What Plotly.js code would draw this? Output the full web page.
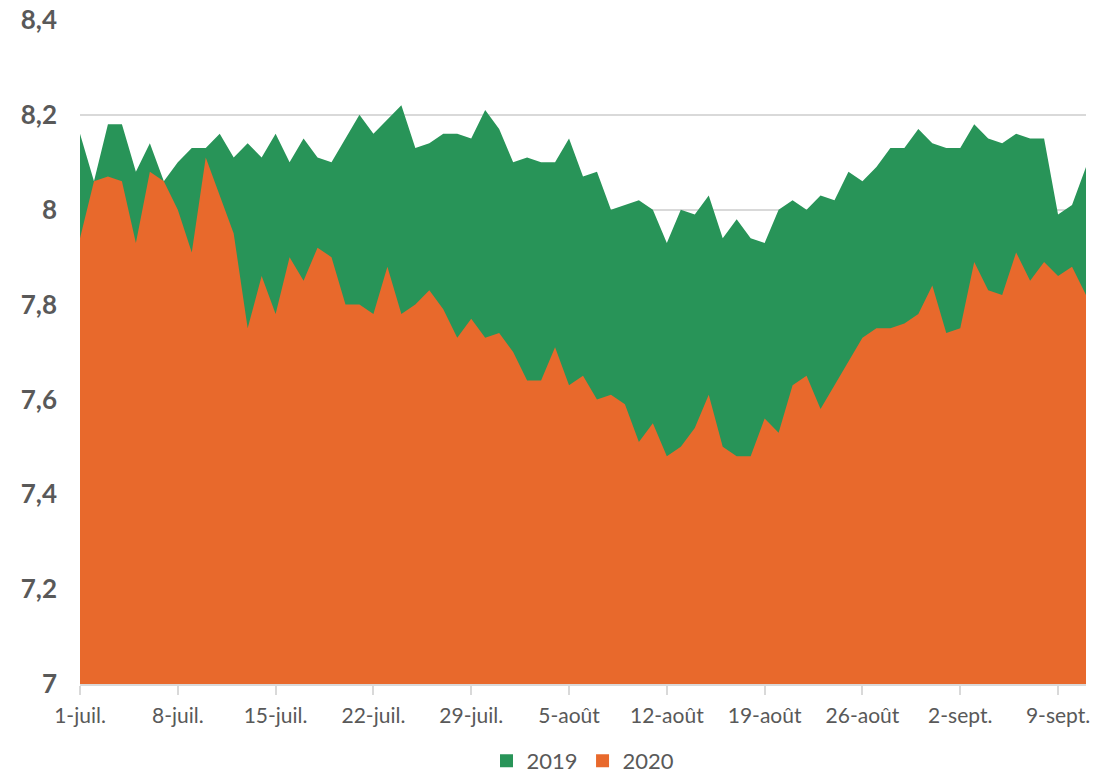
<!DOCTYPE html>
<html>
<head>
<meta charset="utf-8">
<script src="https://cdn.plot.ly/plotly-3.0.1.min.js"></script>
<style>html,body{margin:0;padding:0;background:#fff;overflow:hidden;}#chart{width:1099px;height:782px;}</style>
</head>
<body>
<div id="chart"></div>
<script>
// Days: 1 July to 11 September
var startDate = '2020-07-01';
var endDate = '2020-09-11';
var dayCount = 73;

var values2019 = [8.16,8.06,8.18,8.18,8.08,8.14,8.06,8.10,8.13,8.13,
                  8.16,8.11,8.14,8.11,8.16,8.10,8.15,8.11,8.10,8.15,
                  8.20,8.16,8.19,8.22,8.13,8.14,8.16,8.16,8.15,8.21,
                  8.17,8.10,8.11,8.10,8.10,8.15,8.07,8.08,8.00,8.01,
                  8.02,8.00,7.93,8.00,7.99,8.03,7.94,7.98,7.94,7.93,
                  8.00,8.02,8.00,8.03,8.02,8.08,8.06,8.09,8.13,8.13,
                  8.17,8.14,8.13,8.13,8.18,8.15,8.14,8.16,8.15,8.15,
                  7.99,8.01,8.09];

var values2020 = [7.94,8.06,8.07,8.06,7.93,8.08,8.06,8.00,7.91,8.11,
                  8.03,7.95,7.75,7.86,7.78,7.90,7.85,7.92,7.90,7.80,
                  7.80,7.78,7.88,7.78,7.80,7.83,7.79,7.73,7.77,7.73,
                  7.74,7.70,7.64,7.64,7.71,7.63,7.65,7.60,7.61,7.59,
                  7.51,7.55,7.48,7.50,7.54,7.61,7.50,7.48,7.48,7.56,
                  7.53,7.63,7.65,7.58,7.63,7.68,7.73,7.75,7.75,7.76,
                  7.78,7.84,7.74,7.75,7.89,7.83,7.82,7.91,7.85,7.89,
                  7.86,7.88,7.82];

var tickDates = ['2020-07-01','2020-07-08','2020-07-15','2020-07-22','2020-07-29',
                 '2020-08-05','2020-08-12','2020-08-19','2020-08-26','2020-09-02','2020-09-09'];
var tickLabels = ['1-juil.','8-juil.','15-juil.','22-juil.','29-juil.',
                  '5-août','12-août','19-août','26-août','2-sept.','9-sept.'];

var seriesNames = ['2019','2020'];
var seriesColors = ['#289458','#E8692C'];

// build the date categories
var dates = [];
var d0 = new Date(Date.UTC(2020, 6, 1));
for (var i = 0; i < dayCount; i++) {
  var d = new Date(d0.getTime() + i * 86400000);
  dates.push(d.toISOString().slice(0, 10));
}

var traces = [
  {x: dates, y: values2019, name: seriesNames[0], type: 'scatter', mode: 'lines', showlegend: false,
   fill: 'tozeroy', fillcolor: seriesColors[0], line: {width: 0, color: seriesColors[0]}, hoverinfo: 'x+y'},
  {x: dates, y: values2020, name: seriesNames[1], type: 'scatter', mode: 'lines', showlegend: false,
   fill: 'tozeroy', fillcolor: seriesColors[1], line: {width: 0, color: seriesColors[1]}, hoverinfo: 'x+y'},
  // legend swatches
  {x: [null], y: [null], name: seriesNames[0], type: 'scatter', mode: 'markers',
   marker: {symbol: 'square', size: 13, color: seriesColors[0]}},
  {x: [null], y: [null], name: seriesNames[1], type: 'scatter', mode: 'markers',
   marker: {symbol: 'square', size: 13, color: seriesColors[1]}}
];

var layout = {
  width: 1099, height: 782,
  margin: {l: 80, r: 13, t: 20, b: 98},
  paper_bgcolor: '#ffffff', plot_bgcolor: '#ffffff',
  separators: ', ',
  font: {family: 'Lato, "DejaVu Sans", sans-serif', color: '#595959'},
  showlegend: true,
  legend: {orientation: 'h', xref: 'paper', x: 0.5, xanchor: 'center',
           yref: 'container', y: 0, yanchor: 'bottom',
           font: {size: 22, color: '#595959'}, traceorder: 'normal',
           itemwidth: 30, tracegroupgap: 0, bgcolor: 'rgba(0,0,0,0)'},
  xaxis: {
    type: 'date', range: [startDate, endDate],
    tickmode: 'array', tickvals: tickDates, ticktext: tickLabels,
    showgrid: false, zeroline: false,
    showline: true, linecolor: '#d9d9d9', linewidth: 2,
    ticks: 'outside', ticklen: 9, tickcolor: '#d9d9d9', tickwidth: 2,
    ticklabelstandoff: 3,
    tickfont: {size: 21, color: '#595959'}, fixedrange: true, automargin: false
  },
  yaxis: {
    range: [7, 8.4], dtick: 0.2, tick0: 7,
    showgrid: true, gridcolor: '#d9d9d9', gridwidth: 2,
    zeroline: false, showline: false, ticks: '',
    ticklabelstandoff: 22,
    tickfont: {size: 26, color: '#595959', weight: 'bold'}, fixedrange: true, automargin: false
  }
};

Plotly.newPlot('chart', traces, layout, {displayModeBar: false, staticPlot: true});
</script>
</body>
</html>
